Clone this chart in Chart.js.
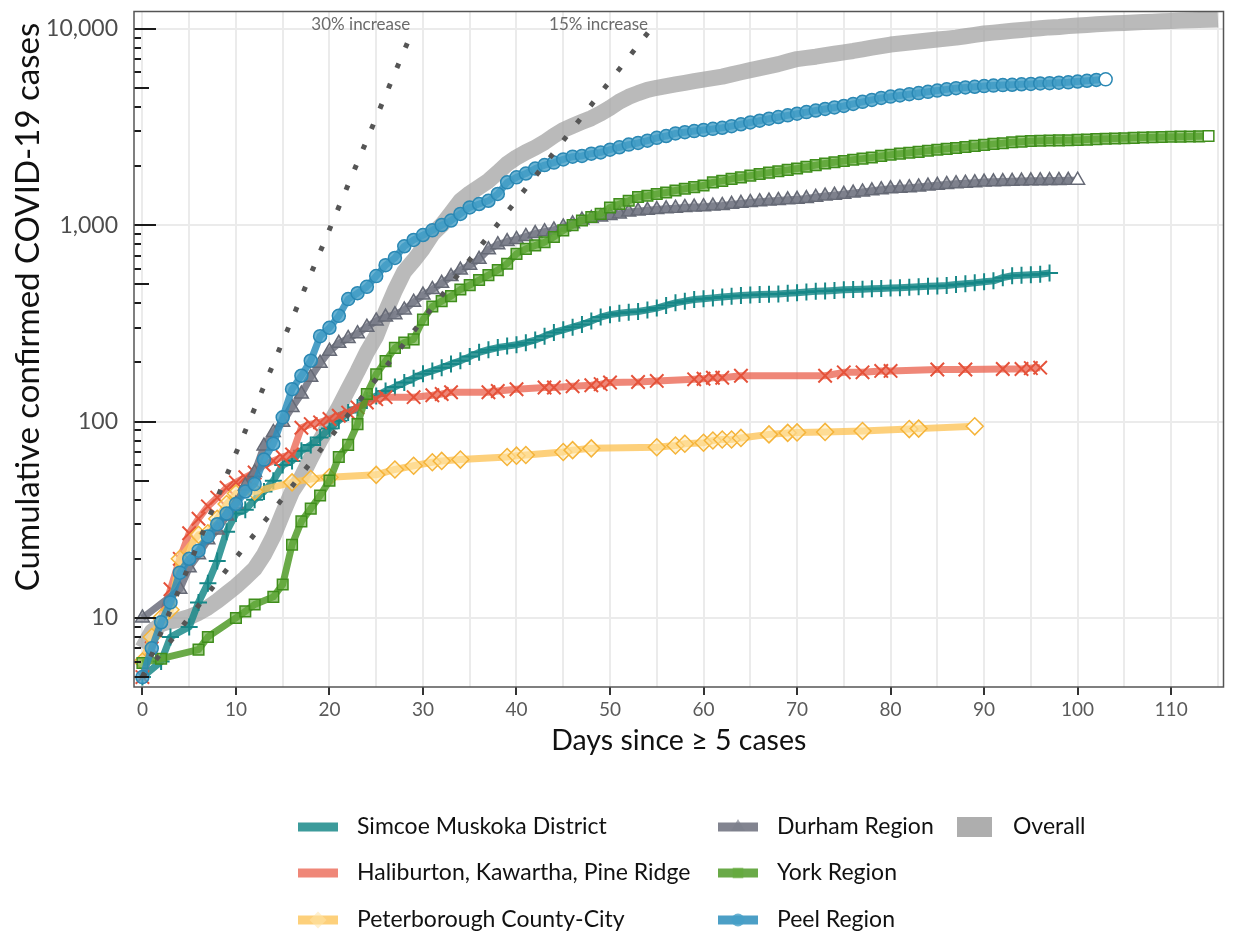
<!DOCTYPE html>
<html>
<head>
<meta charset="utf-8">
<title>Cumulative confirmed COVID-19 cases</title>
<script src="https://cdn.jsdelivr.net/npm/chart.js@4.4.1/dist/chart.umd.min.js"></script>
<style>
  html, body { margin: 0; padding: 0; background: #ffffff; }
  #wrap { width: 1235px; height: 937px; }
</style>
</head>
<body>
<div id="wrap"><canvas id="casesChart" width="1235" height="937"></canvas></div>
<script>
const FONT = "Lato, 'Open Sans', sans-serif";

// axis ticks
const xGridDays = [0, 5, 10, 15, 20, 25, 30, 35, 40, 45, 50, 55, 60, 65, 70, 75, 80, 85, 90, 95, 100, 105, 110, 115];
const xLabelDays = [0, 10, 20, 30, 40, 50, 60, 70, 80, 90, 100, 110];
const yTickCases = [5, 6, 7, 8, 9, 10, 20, 30, 40, 50, 60, 70, 80, 90, 100, 200, 300, 400, 500, 600, 700, 800, 900,
  1000, 2000, 3000, 4000, 5000, 6000, 7000, 8000, 9000, 10000];
const yLabelCases = [10, 100, 1000, 10000];

// reference growth lines (straight on a log axis)
const growth30Days = [0, 28.97];
const growth30Cases = [5, 10000];
const growth15Days = [0, 54.39];
const growth15Cases = [5, 10000];

// Overall, one value per day from day 0
const overallCases = [
  7, 8.5, 9.3, 9.6, 9.8, 10.1, 10.6, 11.3, 12.2, 13.3,
  14.5, 16, 17.8, 21, 26, 34, 44, 52, 65, 80,
  97, 118, 146, 180, 225, 272, 360, 465, 580, 660,
  760, 900, 1000, 1150, 1330, 1450, 1560, 1680, 1850, 2050,
  2210, 2350, 2480, 2640, 2850, 3050, 3200, 3350, 3500, 3700,
  3950, 4250, 4500, 4700, 4880, 5000, 5100, 5200, 5300, 5400,
  5500, 5600, 5700, 5850, 6000, 6150, 6300, 6450, 6600, 6800,
  7000, 7100, 7200, 7330, 7450, 7580, 7700, 7850, 8000, 8150,
  8300, 8400, 8500, 8600, 8700, 8800, 8900, 9000, 9150, 9300,
  9450, 9550, 9650, 9750, 9850, 9950, 10050, 10150, 10200, 10300,
  10380, 10450, 10520, 10600, 10650, 10700, 10750, 10800, 10850, 10900,
  10950, 11000, 11050, 11080, 11100, 11150
];

// Peel Region, one value per day from day 0
const peelCases = [
  5, 7, 9.5, 12, 17, 20, 22, 26, 30, 34,
  38, 44, 48, 64, 77, 105, 146, 171, 204, 272,
  300, 345, 420, 450, 485, 550, 625, 680, 780, 840,
  890, 940, 1000, 1055, 1140, 1230, 1280, 1330, 1440, 1650,
  1750, 1830, 1940, 2020, 2080, 2160, 2230, 2250, 2310, 2345,
  2420, 2490, 2570, 2620, 2690, 2780, 2840, 2930, 2970, 3010,
  3050, 3090, 3130, 3190, 3260, 3330, 3400, 3480, 3550, 3620,
  3690, 3760, 3830, 3900, 3970, 4040, 4140, 4240, 4340, 4440,
  4510, 4570, 4640, 4700, 4770, 4840, 4910, 4980, 5020, 5060,
  5100, 5130, 5160, 5180, 5210, 5230, 5260, 5280, 5310, 5330,
  5380, 5430, 5480, 5520
];

const durhamDays = [0].concat(daySpan(4, 100));
const durhamCases = [
  10,
  14, 18, 21, 25, 28, 33, 38, 47, 55, 75,
  88, 99, 118, 138, 168, 198, 228, 250, 265, 280,
  302, 325, 340, 350, 370, 405, 440, 470, 505, 547,
  590, 625, 670, 750, 795, 825, 845, 875, 905, 925,
  945, 978, 1015, 1060, 1080, 1100, 1120, 1140, 1165, 1178,
  1190, 1200, 1210, 1220, 1230, 1235, 1240, 1250, 1260, 1275,
  1290, 1305, 1315, 1325, 1335, 1345, 1352, 1365, 1385, 1405,
  1420, 1435, 1455, 1475, 1495, 1515, 1530, 1540, 1550, 1565,
  1580, 1595, 1610, 1625, 1635, 1645, 1655, 1660, 1665, 1670,
  1675, 1680, 1682, 1685, 1688, 1690, 1692
];

const yorkDays = [0, 2, 6, 7, 10, 11, 12, 14].concat(daySpan(15, 114));
const yorkCases = [
  5.9, 6.2, 6.9, 8, 10, 10.8, 11.7, 12.8,
  14.8, 23.6, 31, 36, 42, 50, 66, 76, 97, 138,
  174, 203, 237, 252, 262, 330, 385, 410, 435, 470,
  495, 525, 556, 590, 636, 714, 757, 788, 818, 870,
  940, 1000, 1055, 1100, 1140, 1230, 1280, 1330, 1390, 1410,
  1440, 1465, 1500, 1530, 1560, 1590, 1650, 1680, 1720, 1750,
  1785, 1820, 1850, 1880, 1910, 1940, 1980, 2020, 2060, 2090,
  2120, 2150, 2180, 2210, 2250, 2280, 2310, 2335, 2360, 2390,
  2420, 2445, 2470, 2500, 2530, 2560, 2590, 2610, 2640, 2660,
  2680, 2690, 2695, 2700, 2705, 2715, 2725, 2740, 2750, 2760,
  2770, 2780, 2790, 2800, 2810, 2815, 2820, 2825, 2830, 2840
];

const simcoeDays = [0, 2, 3].concat(daySpan(5, 97));
const simcoeCases = [
  5, 6, 8,
  9, 12, 15, 19.5, 27.5, 34, 35.5, 40, 44, 50,
  60, 63, 71, 76, 83, 92, 101, 111, 118, 128,
  135, 143, 150, 158, 166, 175, 181, 188, 196, 204,
  214, 225, 232, 238, 242, 246, 252, 260, 272, 284,
  293, 302, 312, 325, 340, 350, 356, 360, 363, 370,
  378, 390, 402, 410, 418, 422, 426, 430, 434, 438,
  441, 443, 445, 446, 450, 453, 457, 460, 462, 465,
  468, 470, 472, 474, 476, 478, 480, 483, 485, 488,
  490, 493, 498, 503, 508, 515, 520, 540, 552, 555,
  558, 562, 570
];

const haliburtonDays = [0, 1, 3, 4, 5, 6, 7, 8, 9, 10, 11, 12, 13, 14, 15, 16, 17, 18, 19, 20, 21, 22, 23, 24, 25, 26,
  29, 31, 32, 33, 37, 38, 40, 43, 44, 46, 48, 49, 50, 53, 55, 59, 60, 61, 62, 64, 73, 75, 77, 79, 80, 85, 88, 92, 94, 95, 96];
const haliburtonCases = [5, 7, 14, 20, 27, 32, 37, 41, 46, 49, 52, 55, 60, 63, 66, 68, 93, 97, 99, 103, 107, 111, 118, 125, 130, 133,
  133, 136, 138, 141, 141, 143, 146, 149, 149, 151, 153, 155, 158, 159, 161, 164, 165, 167, 167, 171, 171, 178, 178, 181, 181, 184, 184, 185, 185, 187, 188];

const peterboroughDays = [0, 1, 2, 3, 4, 6, 7, 8, 9, 10, 12, 16, 18, 20, 25, 27, 29, 31, 32, 34, 39, 40, 41, 45, 46,
  48, 55, 57, 58, 60, 61, 62, 63, 64, 67, 69, 70, 73, 77, 82, 83, 89];
const peterboroughCases = [6, 8, 10, 11, 20, 26.5, 27, 32, 38, 43, 44, 49, 51, 52, 53.5, 57, 59.5, 62, 63, 64, 66, 67, 67.5, 70, 71.5,
  73, 74, 75.5, 77, 78, 80, 81, 81, 82.5, 86, 87.5, 88, 88.5, 89.5, 91.5, 92, 94.5];

const regions = [
  { label: "Simcoe Muskoka District", days: simcoeDays, cases: simcoeCases, style: "cross", radius: 8.5,
    marker: "#168787", line: "rgba(26,138,138,0.85)", fill: "rgba(26,138,138,0.6)", order: 6 },
  { label: "Haliburton, Kawartha, Pine Ridge", days: haliburtonDays, cases: haliburtonCases, style: "crossRot", radius: 9.5,
    marker: "#e5523a", line: "rgba(234,95,75,0.75)", fill: "rgba(234,95,75,0.6)", order: 5 },
  { label: "Peterborough County-City", days: peterboroughDays, cases: peterboroughCases, style: "rectRot", radius: 8.5,
    marker: "#f5b43a", line: "rgba(253,196,90,0.8)", fill: "rgba(255,230,170,0.55)", order: 4 },
  { label: "Durham Region", days: durhamDays, cases: durhamCases, style: "triangle", radius: 8,
    marker: "#666a76", line: "rgba(108,111,124,0.85)", fill: "rgba(125,128,140,0.65)", order: 3 },
  { label: "York Region", days: yorkDays, cases: yorkCases, style: "rect", radius: 7.5,
    marker: "#3f8e1b", line: "rgba(80,155,40,0.85)", fill: "rgba(100,170,60,0.65)", order: 2 },
  { label: "Peel Region", days: daySpan(0, peelCases.length - 1), cases: peelCases, style: "circle", radius: 6.5,
    marker: "#2a88b4", line: "rgba(45,142,188,0.85)", fill: "rgba(70,160,200,0.8)", order: 1 }
];

function daySpan(first, last) {
  const out = [];
  for (let d = first; d <= last; d++) out.push(d);
  return out;
}

function toPoints(days, cases) {
  return cases.map((c, i) => ({ x: days[i], y: c }));
}

function buildDatasets() {
  const sets = regions.map((r) => ({
    label: r.label,
    data: toPoints(r.days, r.cases),
    borderColor: r.line,
    borderWidth: 7,
    borderJoinStyle: "round",
    pointStyle: r.style,
    pointRadius: r.radius,
    pointBorderWidth: r.style === "cross" || r.style === "crossRot" ? 2 : 1.5,
    pointBorderColor: r.marker,
    pointBackgroundColor: (ctx) => (ctx.dataIndex === r.cases.length - 1 ? "#ffffff" : r.fill),
    order: r.order,
  }));

  sets.push({
    label: "Overall",
    data: toPoints(daySpan(0, overallCases.length - 1), overallCases),
    borderColor: "rgba(160,160,160,0.72)",
    borderWidth: 16,
    borderJoinStyle: "round",
    pointRadius: 0,
    clip: 0,
    order: 10,
  });

  sets.push(refLine("30% increase", growth30Days, growth30Cases));
  sets.push(refLine("15% increase", growth15Days, growth15Cases));
  return sets;
}

function refLine(label, days, cases) {
  return {
    label: label,
    data: toPoints(days, cases),
    borderColor: "#555555",
    borderWidth: 5,
    borderDash: [5, 17],
    pointRadius: 0,
    order: 0,
  };
}

function formatCases(v) {
  return Number(v).toLocaleString("en-US");
}

// inner ticks, frame, annotations, titles and legend
const decorPlugin = {
  id: "decor",
  afterDatasetsDraw(chart) {
    const { ctx, chartArea, scales } = chart;
    const y = scales.y;
    const x = scales.x;

    ctx.save();
    ctx.strokeStyle = "#1a1a1a";
    ctx.lineWidth = 2;
    yTickCases.forEach((v) => {
      const py = Math.round(y.getPixelForValue(v));
      let len = 7;
      if (yLabelCases.includes(v)) len = 22;
      else if (String(v).charAt(0) === "5") len = 15;
      ctx.beginPath();
      ctx.moveTo(chartArea.left, py);
      ctx.lineTo(chartArea.left + len, py);
      ctx.stroke();
    });

    ctx.strokeStyle = "#555555";
    ctx.lineWidth = 1.5;
    ctx.strokeRect(chartArea.left, chartArea.top, chartArea.right - chartArea.left, chartArea.bottom - chartArea.top);

    ctx.fillStyle = "#6b6b6b";
    ctx.font = "17px " + FONT;
    ctx.textAlign = "right";
    ctx.textBaseline = "middle";
    ctx.fillText("30% increase", x.getPixelForValue(growth30Days[1]) - 3, y.getPixelForValue(growth30Cases[1]) - 4);
    ctx.fillText("15% increase", x.getPixelForValue(growth15Days[1]) - 3, y.getPixelForValue(growth15Cases[1]) - 4);
    ctx.restore();
  },
  afterDraw(chart) {
    const { ctx, chartArea } = chart;
    ctx.save();
    ctx.fillStyle = "#111111";
    ctx.textAlign = "center";
    ctx.textBaseline = "middle";

    ctx.font = "28.5px " + FONT;
    ctx.fillText("Days since \u2265 5 cases", (chartArea.left + chartArea.right) / 2, 741);

    ctx.save();
    ctx.translate(28, 307);
    ctx.rotate(-Math.PI / 2);
    ctx.font = "33px " + FONT;
    ctx.fillText("Cumulative confirmed COVID-19 cases", 0, 0);
    ctx.restore();

    drawLegend(ctx);
    ctx.restore();
  },
};

function drawLegend(ctx) {
  const colX = [298, 718];
  const rowY = [827, 873, 920];
  ctx.font = "23px " + FONT;
  ctx.textAlign = "left";
  ctx.textBaseline = "middle";

  regions.forEach((r, i) => {
    const x0 = colX[Math.floor(i / 3)];
    const yy = rowY[i % 3];
    ctx.strokeStyle = r.line;
    ctx.lineWidth = 9;
    ctx.beginPath();
    ctx.moveTo(x0, yy);
    ctx.lineTo(x0 + 40, yy);
    ctx.stroke();
    if (Chart.helpers && Chart.helpers.drawPoint) {
      ctx.strokeStyle = r.marker;
      ctx.fillStyle = r.fill;
      ctx.lineWidth = r.style === "cross" || r.style === "crossRot" ? 2 : 1.5;
      Chart.helpers.drawPoint(ctx, { pointStyle: r.style, radius: r.radius, rotation: 0 }, x0 + 20, yy);
    }
    ctx.fillStyle = "#111111";
    ctx.fillText(r.label, x0 + 59, yy);
  });

  ctx.fillStyle = "rgba(160,160,160,0.85)";
  ctx.fillRect(957, 817, 35, 20);
  ctx.fillStyle = "#111111";
  ctx.fillText("Overall", 1013, rowY[0]);
}

function renderChart() {
  const canvas = document.getElementById("casesChart");

  new Chart(canvas, {
    type: "line",
    data: { datasets: buildDatasets() },
    plugins: [decorPlugin],
    options: {
      responsive: false,
      animation: false,
      events: [],
      layout: { padding: { top: 7, right: 3, left: 0, bottom: 170 } },
      plugins: {
        legend: { display: false },
        tooltip: { enabled: false },
      },
      scales: {
        x: {
          type: "linear",
          min: -0.9,
          max: 115.6,
          afterBuildTicks: (scale) => {
            scale.ticks = xGridDays.map((v) => ({ value: v }));
          },
          afterFit: (scale) => {
            scale.height = 80;
            scale.paddingLeft = 0;
            scale.paddingRight = 0;
          },
          border: { display: false },
          grid: {
            color: "#ebebeb",
            lineWidth: 2,
            drawTicks: true,
            tickLength: 8,
            tickWidth: 2,
            tickColor: (c) => (c.tick && xLabelDays.includes(c.tick.value) ? "#333333" : "rgba(0,0,0,0)"),
          },
          ticks: {
            autoSkip: false,
            maxRotation: 0,
            padding: 3,
            color: "#5a5a5a",
            font: { family: FONT, size: 19 },
            callback: (v) => (xLabelDays.includes(v) ? String(v) : ""),
          },
        },
        y: {
          type: "logarithmic",
          min: 4.45,
          max: 12230,
          afterBuildTicks: (scale) => {
            scale.ticks = yTickCases.map((v) => ({ value: v }));
          },
          afterFit: (scale) => {
            scale.width = 134;
            scale.paddingTop = 0;
            scale.paddingBottom = 0;
          },
          border: { display: false },
          grid: {
            color: (c) => (c.tick && yLabelCases.includes(c.tick.value) ? "#ebebeb" : "rgba(0,0,0,0)"),
            lineWidth: 2,
            drawTicks: false,
          },
          ticks: {
            autoSkip: false,
            padding: 16,
            color: "#4d4d4d",
            font: { family: FONT, size: 23 },
            callback: (v) => (yLabelCases.includes(v) ? formatCases(v) : ""),
          },
        },
      },
    },
  });
}

document.addEventListener("DOMContentLoaded", renderChart);
</script>
</body>
</html>
